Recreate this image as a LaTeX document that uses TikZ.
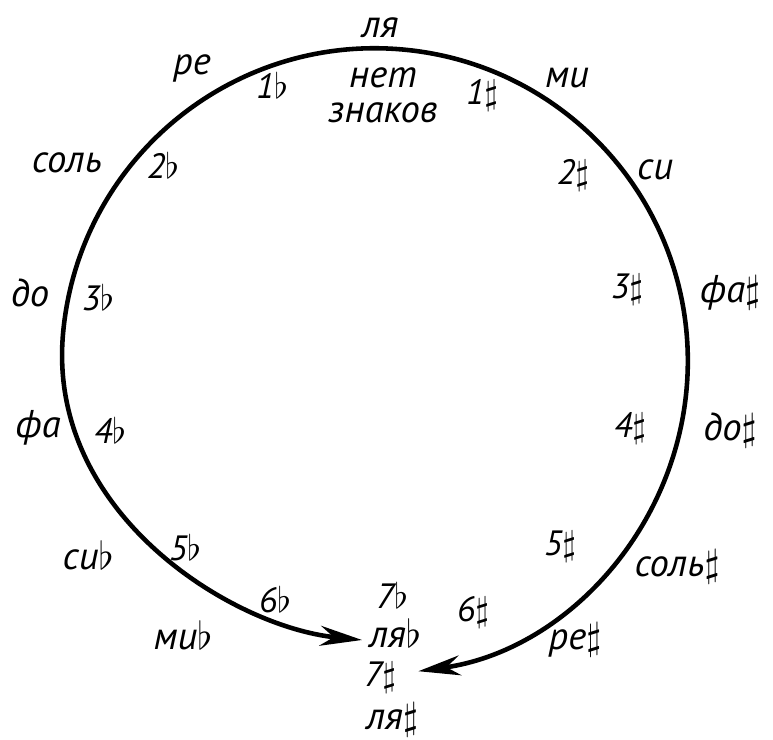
\documentclass[tikz,border=0pt]{standalone}
\usepackage{fontspec}
\setmainfont{PT Sans}
\usetikzlibrary{arrows.meta}

\tikzset{
    tone/.style={font=\fontsize{11}{13}\selectfont\itshape, inner sep=1pt},
    keysig/.style={font=\fontsize{10}{12}\selectfont\itshape, inner sep=1pt}
}

\begin{document}
\begin{tikzpicture}[x=0.01cm, y=0.01cm]
    \useasboundingbox (0,0) rectangle (773,740);

    % circle of fifths
    \coordinate (west) at (63,406);
    \coordinate (flatend) at (362,100);
    \draw[line width=1.3pt, {Stealth[length=4.2mm, width=2mm]}-{Stealth[length=4.2mm, width=2mm]}]
        (flatend) .. controls (232,113) and (47.3,226.7) .. (west)
        arc[start angle=175, end angle=-82, radius=313] coordinate (sharpend);

    \node[tone] (la) at (380,712) {ля};
    \node[tone, align=center] (none) at (383,645) {нет\\[-3pt]знаков};

    % flats, left side
    \node[tone] (re) at (192,672) {ре};
    \node[keysig] (f1) at (272,655) {1$\flat$};
    \node[tone] (sol) at (67,577) {соль};
    \node[keysig] (f2) at (163,575) {2$\flat$};
    \node[tone] (do) at (30,447) {до};
    \node[keysig] (f3) at (98,442) {3$\flat$};
    \node[tone] (fa) at (38,312) {фа};
    \node[keysig] (f4) at (110,310) {4$\flat$};
    \node[tone] (sib) at (88,185) {си$\flat$};
    \node[keysig] (f5) at (185,192) {5$\flat$};
    \node[tone] (mib) at (183,105) {ми$\flat$};
    \node[keysig] (f6) at (275,140) {6$\flat$};
    \node[keysig] (f7) at (392,145) {7$\flat$};
    \node[tone] (lab) at (395,107) {ля$\flat$};

    % sharps, right side
    \node[tone] (mi) at (567,662) {ми};
    \node[keysig] (s1) at (482,645) {1$\sharp$};
    \node[tone] (si) at (655,570) {си};
    \node[keysig] (s2) at (573,565) {2$\sharp$};
    \node[tone] (fas) at (730,447) {фа$\sharp$};
    \node[keysig] (s3) at (627,450) {3$\sharp$};
    \node[tone] (dos) at (730,310) {до$\sharp$};
    \node[keysig] (s4) at (630,312) {4$\sharp$};
    \node[tone] (sols) at (677,173) {соль$\sharp$};
    \node[keysig] (s5) at (560,193) {5$\sharp$};
    \node[tone] (res) at (575,100) {ре$\sharp$};
    \node[keysig] (s6) at (473,128) {6$\sharp$};
    \node[keysig] (s7) at (380,62) {7$\sharp$};
    \node[tone] (las) at (392,20) {ля$\sharp$};
\end{tikzpicture}
\end{document}
